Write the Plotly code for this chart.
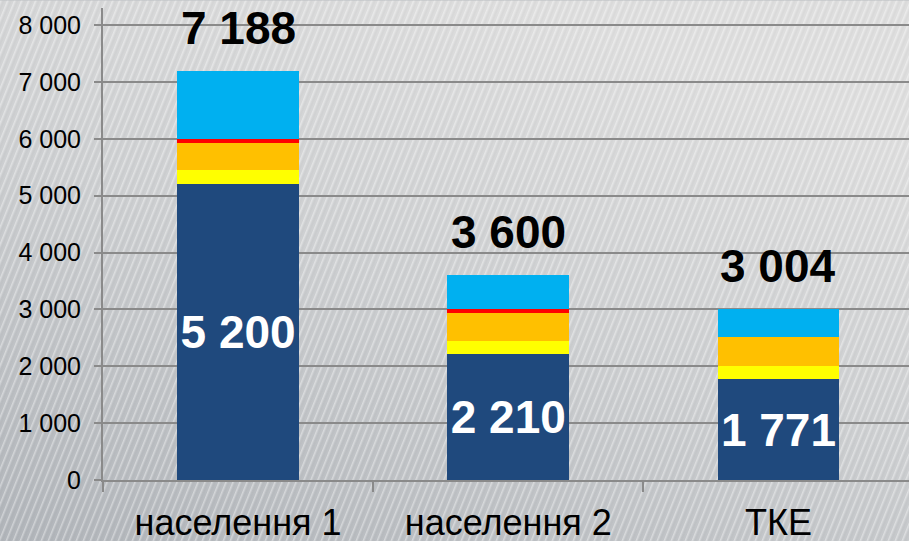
import base64
import plotly.graph_objects as go

categories = ["населення 1", "населення 2", "ТКЕ"]
base_vals = [5200, 2210, 1771]
yellow_vals = [245, 240, 240]
orange_vals = [485, 490, 500]
red_vals = [60, 60, 0]
blue_vals = [1198, 600, 493]
y_ticks = [0, 1000, 2000, 3000, 4000, 5000, 6000, 7000, 8000]

totals = [sum(v) for v in zip(base_vals, yellow_vals, orange_vals, red_vals, blue_vals)]

W, H = 909, 541
L, R, T, B = 103, 0, 7.6, 61
PW, PH = W - L - R, H - T - B
FONT = "Arial, Liberation Sans, sans-serif"

svg = f"""<svg xmlns='http://www.w3.org/2000/svg' width='{W}' height='{H}'>
<defs>
<linearGradient id='g' x1='0' y1='1' x2='0.55' y2='0'>
<stop offset='0' stop-color='#b1b5ba'/>
<stop offset='0.55' stop-color='#cdcfd1'/>
<stop offset='1' stop-color='#dedede'/>
</linearGradient>
<pattern id='p' width='7' height='40' patternUnits='userSpaceOnUse' patternTransform='skewX(-22)'>
<rect x='0' y='0' width='1.6' height='40' fill='#ffffff' fill-opacity='0.38'/>
<rect x='3.5' y='0' width='0.8' height='40' fill='#000000' fill-opacity='0.04'/>
</pattern>
</defs>
<rect width='{W}' height='{H}' fill='url(#g)'/>
<rect width='{W}' height='{H}' fill='url(#p)'/>
</svg>"""
bg_uri = "data:image/svg+xml;base64," + base64.b64encode(svg.encode()).decode()

fig = go.Figure()
series = [
    ("base", base_vals, "#1F497D"),
    ("yellow", yellow_vals, "#FFFF00"),
    ("orange", orange_vals, "#FFC000"),
    ("red", red_vals, "#FF0000"),
    ("blue", blue_vals, "#00B0F0"),
]
for name, vals, color in series:
    kw = {}
    if name == "base":
        kw = dict(
            texttemplate="%{y:,d}",
            textposition="inside",
            insidetextanchor="middle",
            constraintext="none",
            insidetextfont=dict(family=FONT, size=46, color="white", weight="bold"),
        )
    fig.add_trace(go.Bar(
        x=categories, y=vals, name=name,
        marker=dict(color=color, line=dict(width=0)),
        width=0.451, showlegend=False, hoverinfo="skip", **kw,
    ))

for c, t in zip(categories, totals):
    fig.add_annotation(
        x=c, y=t, yanchor="bottom", yshift=15, showarrow=False,
        text=f"{t:,}".replace(",", " "),
        font=dict(family=FONT, size=46, color="black", weight="bold"),
    )

fig.update_layout(
    width=W, height=H,
    margin=dict(l=L, r=R, t=T, b=B, pad=0, autoexpand=False),
    barmode="stack",
    separators=", ",
    paper_bgcolor="#c3c6c9",
    plot_bgcolor="rgba(0,0,0,0)",
    images=[dict(
        source=bg_uri, xref="paper", yref="paper",
        x=-L / PW, y=1 + T / PH, sizex=W / PW, sizey=H / PH,
        xanchor="left", yanchor="top", sizing="stretch", layer="below",
    )],
    xaxis=dict(
        type="category", range=[-0.5, 2.483], automargin=False,
        tickson="boundaries", ticks="outside", ticklen=10, tickwidth=1.5,
        tickcolor="#8a8a8a",
        showline=True, linecolor="#8a8a8a", linewidth=2,
        showgrid=False, zeroline=False,
        tickfont=dict(family=FONT, size=36, color="black"),
        ticklabelstandoff=10,
    ),
    yaxis=dict(
        range=[0, 8300], tickvals=y_ticks, tickformat=",d", automargin=False,
        ticks="outside", ticklen=7, tickwidth=1.5, tickcolor="#8a8a8a",
        showline=True, linecolor="#8a8a8a", linewidth=2,
        showgrid=True, gridcolor="#8a8a8a", gridwidth=1.8,
        zeroline=False,
        tickfont=dict(family=FONT, size=25, color="black"),
        ticklabelstandoff=8,
    ),
)

fig.write_html(
    "out.html",
    config={"displayModeBar": False},
    post_script="document.body.style.margin='0px';document.body.style.padding='0px';document.body.style.overflow='hidden';document.body.style.background='#bfc2c5';",
)
